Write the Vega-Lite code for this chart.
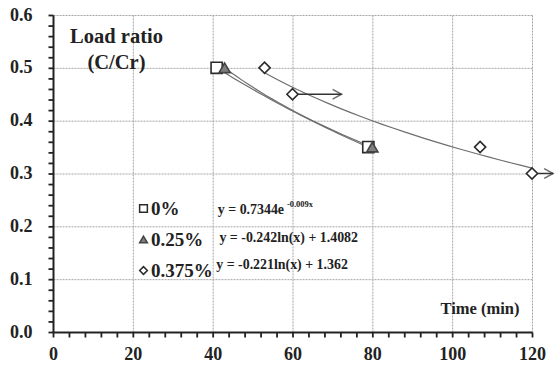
{
  "$schema": "https://vega.github.io/schema/vega-lite/v6.json",
  "width": 479,
  "height": 317,
  "autosize": {"type": "none"},
  "padding": {"left": 53, "top": 15, "right": 23, "bottom": 33},
  "background": "white",
  "config": {
    "view": {"stroke": null},
    "font": "Liberation Serif"
  },
  "datasets": {
    "pts": [
      {"series": "0%", "time": 41, "ratio": 0.5},
      {"series": "0%", "time": 79, "ratio": 0.35},
      {"series": "0.25%", "time": 43, "ratio": 0.5},
      {"series": "0.25%", "time": 80, "ratio": 0.35},
      {"series": "0.375%", "time": 53, "ratio": 0.5},
      {"series": "0.375%", "time": 60, "ratio": 0.45},
      {"series": "0.375%", "time": 107, "ratio": 0.35},
      {"series": "0.375%", "time": 120, "ratio": 0.3}
    ],
    "arrows": [
      {"time": 60, "end": 72.3, "ratio": 0.45},
      {"time": 120, "end": 125.3, "ratio": 0.3}
    ],
    "eqs": [
      {"eq": "y = 0.7344e", "time": 41.3, "ratio": 0.231},
      {"eq": "y = -0.242ln(x)  + 1.4082", "time": 41.7, "ratio": 0.178},
      {"eq": "y = -0.221ln(x)  + 1.362", "time": 40.9, "ratio": 0.127}
    ],
    "sups": [
      {"sup": "-0.009x", "time": 58.6, "ratio": 0.242}
    ]
  },
  "encoding": {
    "x": {
      "field": "time",
      "type": "quantitative",
      "scale": {"domain": [0, 120], "nice": false, "zero": false},
      "axis": {
        "title": "Time (min)",
        "titleFont": "Liberation Serif",
        "titleFontWeight": "bold",
        "titleColor": "#222",
        "titleFontSize": 16.5,
        "titleAlign": "right",
        "titleBaseline": "middle",
        "titleX": 466,
        "titleY": -24,
        "values": [0,4,8,12,16,20,24,28,32,36,40,44,48,52,56,60,64,68,72,76,80,84,88,92,96,100,104,108,112,116,120],
        "labelExpr": "datum.value % 20 === 0 ? datum.label : ''",
        "labelFont": "Liberation Serif",
        "labelFontWeight": "bold",
        "labelFontSize": 18,
        "labelColor": "#222",
        "labelFlush": false,
        "labelPadding": 8,
        "labelOverlap": false,
        "domain": true,
        "domainColor": "#222",
        "domainWidth": 2,
        "ticks": true,
        "tickRound": false,
        "tickSize": 5,
        "tickColor": "#222",
        "tickWidth": 1.8,
        "tickOpacity": 1,
        "grid": true,
        "gridColor": "#a5a5a5",
        "gridWidth": 1,
        "gridDash": [2, 1],
        "gridOpacity": {"condition": {"test": "datum.value % 20 === 0", "value": 1}, "value": 0},
        "encode": {
          "ticks": {"update": {"x": {"scale": "x", "field": "value"}, "y": {"value": 0}, "y2": {"value": -5}}},
          "grid": {"update": {"x": {"scale": "x", "field": "value"}}}
        }
      }
    },
    "y": {
      "field": "ratio",
      "type": "quantitative",
      "scale": {"domain": [0, 0.6], "nice": false},
      "axis": {
        "title": ["Load ratio", "(C/Cr)"],
        "titleFont": "Liberation Serif",
        "titleFontWeight": "bold",
        "titleColor": "#222",
        "titleFontSize": 20.5,
        "titleAngle": 0,
        "titleAlign": "center",
        "titleBaseline": "top",
        "titleLineHeight": 26,
        "titleX": 63,
        "titleY": 11,
        "values": [0,0.02,0.04,0.06,0.08,0.1,0.12,0.14,0.16,0.18,0.2,0.22,0.24,0.26,0.28,0.3,0.32,0.34,0.36,0.38,0.4,0.42,0.44,0.46,0.48,0.5,0.52,0.54,0.56,0.58,0.6],
        "labelExpr": "abs(datum.value * 10 - round(datum.value * 10)) < 0.001 ? format(datum.value, '.1f') : ''",
        "labelFont": "Liberation Serif",
        "labelFontWeight": "bold",
        "labelFontSize": 18,
        "labelColor": "#222",
        "labelFlush": false,
        "labelPadding": 16,
        "labelOverlap": false,
        "domain": true,
        "domainColor": "#222",
        "domainWidth": 2,
        "ticks": true,
        "tickRound": false,
        "tickSize": 5,
        "tickColor": "#222",
        "tickWidth": 1.8,
        "tickOpacity": 1,
        "grid": true,
        "gridColor": "#a5a5a5",
        "gridWidth": 1,
        "gridDash": [2, 1],
        "gridOpacity": {"condition": {"test": "abs(datum.value * 10 - round(datum.value * 10)) < 0.001", "value": 1}, "value": 0},
        "encode": {
          "ticks": {"update": {"y": {"scale": "y", "field": "value"}, "x": {"value": 0}, "x2": {"value": 5}}},
          "grid": {"update": {"y": {"scale": "y", "field": "value"}}}
        }
      }
    }
  },
  "layer": [
    {
      "data": {"name": "pts"},
      "transform": [
        {"filter": "datum.series === '0%'"},
        {"regression": "ratio", "on": "time", "method": "exp"}
      ],
      "mark": {"type": "line", "color": "#6e6e6e", "strokeWidth": 1.2}
    },
    {
      "data": {"name": "pts"},
      "transform": [
        {"filter": "datum.series !== '0%'"},
        {"regression": "ratio", "on": "time", "method": "log", "groupby": ["series"]}
      ],
      "mark": {"type": "line", "color": "#6e6e6e", "strokeWidth": 1.2},
      "encoding": {"detail": {"field": "series"}}
    },
    {
      "data": {"name": "arrows"},
      "mark": {"type": "rule", "color": "#333", "strokeWidth": 1.5},
      "encoding": {"x2": {"field": "end"}}
    },
    {
      "data": {"name": "arrows"},
      "mark": {"type": "point", "shape": "M-1,-0.55L0,0L-1,0.55", "filled": false, "stroke": "#333", "strokeWidth": 1.5, "size": 324},
      "encoding": {"x": {"field": "end", "type": "quantitative"}}
    },
    {
      "data": {"name": "pts"},
      "mark": {"type": "point", "filled": true, "size": 125, "strokeWidth": 1.6, "opacity": 1},
      "encoding": {
        "shape": {
          "field": "series", "type": "nominal",
          "scale": {"domain": ["0%", "0.25%", "0.375%"], "range": ["square", "triangle-up", "diamond"]},
          "legend": {"orient": "none", "legendX": 81, "legendY": 184, "title": null, "padding": 0, "rowPadding": 11, "symbolSize": 60, "symbolStrokeWidth": 1.5, "labelFont": "Liberation Serif", "labelFontWeight": "bold", "labelFontSize": 19, "labelColor": "#222", "labelOffset": -2}
        },
        "fill": {
          "field": "series", "type": "nominal",
          "scale": {"domain": ["0%", "0.25%", "0.375%"], "range": ["white", "#7f7f7f", "white"]},
          "legend": {"orient": "none", "legendX": 81, "legendY": 184, "title": null, "padding": 0, "rowPadding": 11, "symbolSize": 60, "symbolStrokeWidth": 1.5, "labelFont": "Liberation Serif", "labelFontWeight": "bold", "labelFontSize": 19, "labelColor": "#222", "labelOffset": -2}
        },
        "stroke": {
          "field": "series", "type": "nominal",
          "scale": {"domain": ["0%", "0.25%", "0.375%"], "range": ["#2a2a2a", "#444444", "#2a2a2a"]},
          "legend": {"orient": "none", "legendX": 81, "legendY": 184, "title": null, "padding": 0, "rowPadding": 11, "symbolSize": 60, "symbolStrokeWidth": 1.5, "labelFont": "Liberation Serif", "labelFontWeight": "bold", "labelFontSize": 19, "labelColor": "#222", "labelOffset": -2}
        }
      }
    },
    {
      "data": {"name": "eqs"},
      "mark": {"type": "text", "align": "left", "baseline": "middle", "font": "Liberation Serif", "fontWeight": "bold", "fontSize": 13.9, "color": "#222"},
      "encoding": {"text": {"field": "eq"}}
    },
    {
      "data": {"name": "sups"},
      "mark": {"type": "text", "align": "left", "baseline": "middle", "font": "Liberation Serif", "fontWeight": "bold", "fontSize": 8.5, "color": "#222"},
      "encoding": {"text": {"field": "sup"}}
    }
  ]
}
